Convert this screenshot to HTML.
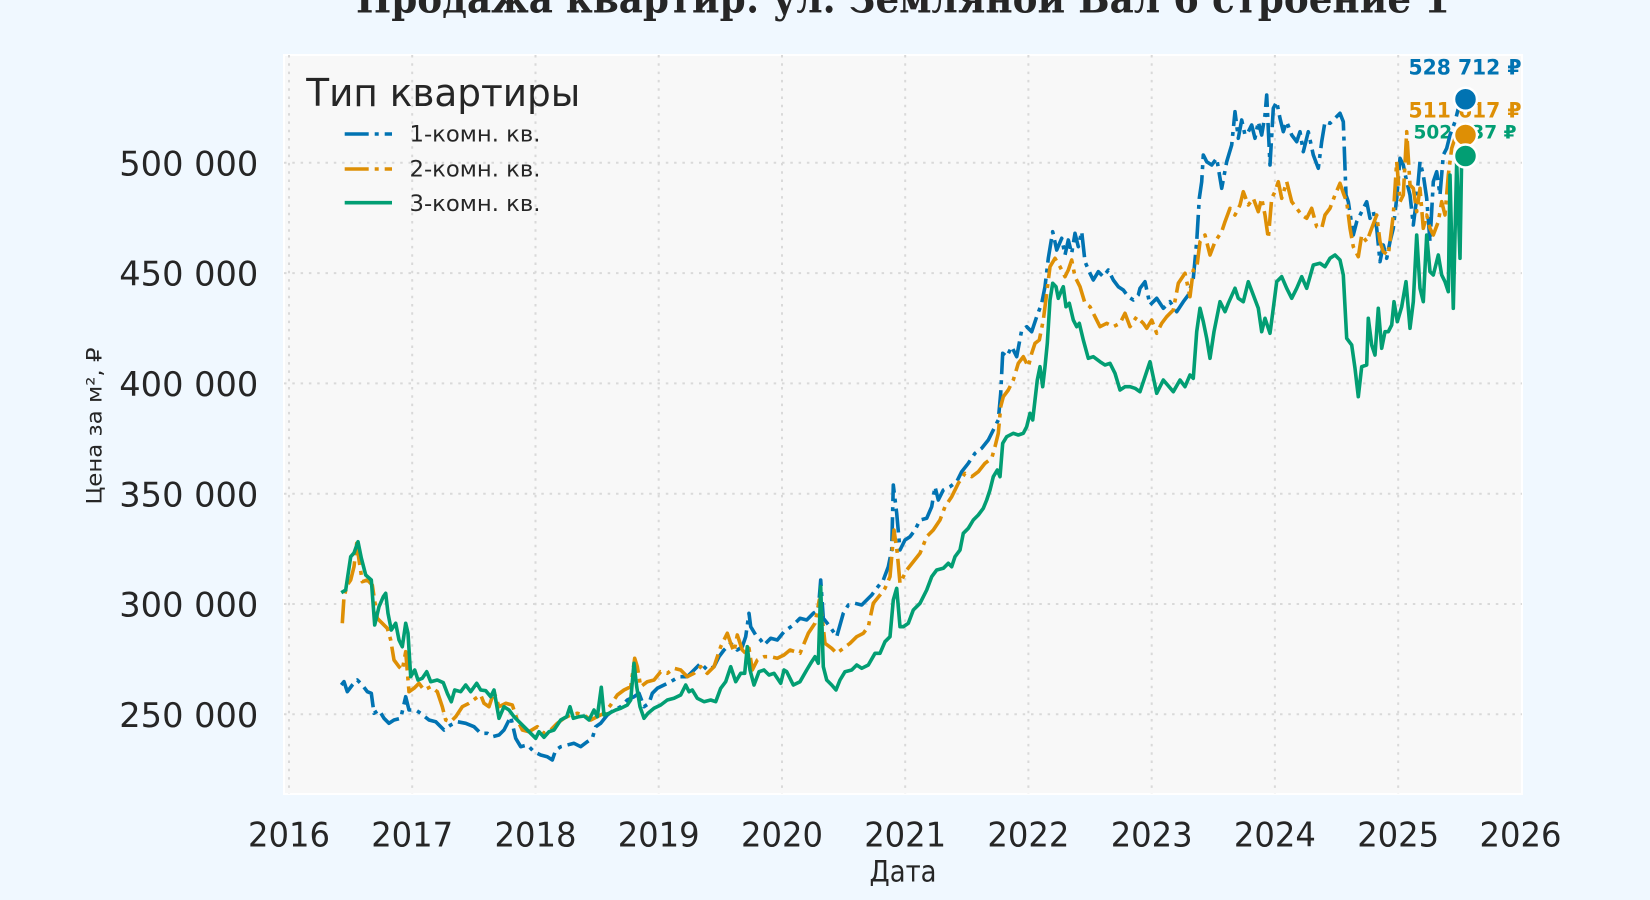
<!DOCTYPE html>
<html><head><meta charset="utf-8"><style>
html,body{margin:0;padding:0;background:#f0f8ff;}
svg{display:block;}
text{font-family:"DejaVu Sans","Liberation Sans","Noto Sans CJK SC",sans-serif;fill:#262626;}
</style></head><body>
<svg width="1650" height="900" viewBox="0 0 1650 900" xmlns="http://www.w3.org/2000/svg">
<rect x="0" y="0" width="1650" height="900" fill="#f0f8ff"/>
<text x="903" y="12.7" text-anchor="middle" font-size="40" font-weight="bold" textLength="1094" lengthAdjust="spacingAndGlyphs" style="font-family:'DejaVu Serif','Liberation Serif',serif;fill:#262626">Продажа квартир: ул. Земляной Вал 6 строение 1</text>
<rect x="284" y="55" width="1238" height="739" fill="#f8f8f8" stroke="#ffffff" stroke-width="2"/>
<g stroke="#d9d9d9" stroke-width="2" stroke-dasharray="2.5 5.8" fill="none">
<line x1="284" x2="1522" y1="714.3" y2="714.3"/>
<line x1="284" x2="1522" y1="604.0" y2="604.0"/>
<line x1="284" x2="1522" y1="493.7" y2="493.7"/>
<line x1="284" x2="1522" y1="383.4" y2="383.4"/>
<line x1="284" x2="1522" y1="273.1" y2="273.1"/>
<line x1="284" x2="1522" y1="162.8" y2="162.8"/>
<line y1="55" y2="794" x1="289" x2="289"/>
<line y1="55" y2="794" x1="412.2" x2="412.2"/>
<line y1="55" y2="794" x1="535.5" x2="535.5"/>
<line y1="55" y2="794" x1="658.7" x2="658.7"/>
<line y1="55" y2="794" x1="782" x2="782"/>
<line y1="55" y2="794" x1="905.2" x2="905.2"/>
<line y1="55" y2="794" x1="1028.4" x2="1028.4"/>
<line y1="55" y2="794" x1="1151.7" x2="1151.7"/>
<line y1="55" y2="794" x1="1274.9" x2="1274.9"/>
<line y1="55" y2="794" x1="1398.2" x2="1398.2"/>
</g>
<g font-size="34" text-anchor="end">
<text x="258.3" y="726.9" textLength="139" lengthAdjust="spacingAndGlyphs">250 000</text>
<text x="258.3" y="616.6" textLength="139" lengthAdjust="spacingAndGlyphs">300 000</text>
<text x="258.3" y="506.3" textLength="139" lengthAdjust="spacingAndGlyphs">350 000</text>
<text x="258.3" y="396.0" textLength="139" lengthAdjust="spacingAndGlyphs">400 000</text>
<text x="258.3" y="285.7" textLength="139" lengthAdjust="spacingAndGlyphs">450 000</text>
<text x="258.3" y="175.4" textLength="139" lengthAdjust="spacingAndGlyphs">500 000</text>
</g>
<g font-size="34" text-anchor="middle">
<text x="289" y="846.7" textLength="82" lengthAdjust="spacingAndGlyphs">2016</text>
<text x="412.2" y="846.7" textLength="82" lengthAdjust="spacingAndGlyphs">2017</text>
<text x="535.5" y="846.7" textLength="82" lengthAdjust="spacingAndGlyphs">2018</text>
<text x="658.7" y="846.7" textLength="82" lengthAdjust="spacingAndGlyphs">2019</text>
<text x="782" y="846.7" textLength="82" lengthAdjust="spacingAndGlyphs">2020</text>
<text x="905.2" y="846.7" textLength="82" lengthAdjust="spacingAndGlyphs">2021</text>
<text x="1028.4" y="846.7" textLength="82" lengthAdjust="spacingAndGlyphs">2022</text>
<text x="1151.7" y="846.7" textLength="82" lengthAdjust="spacingAndGlyphs">2023</text>
<text x="1274.9" y="846.7" textLength="82" lengthAdjust="spacingAndGlyphs">2024</text>
<text x="1398.2" y="846.7" textLength="82" lengthAdjust="spacingAndGlyphs">2025</text>
<text x="1520.5" y="846.7" textLength="82" lengthAdjust="spacingAndGlyphs">2026</text>
</g>
<text x="903" y="881.7" text-anchor="middle" font-size="29" textLength="67" lengthAdjust="spacingAndGlyphs">Дата</text>
<text transform="translate(101.7,426) rotate(-90)" text-anchor="middle" font-size="21" textLength="157" lengthAdjust="spacingAndGlyphs">Цена за м², ₽</text>

<text x="306.3" y="106" font-size="38" textLength="274" lengthAdjust="spacingAndGlyphs">Тип квартиры</text>
<line x1="344.7" x2="392" y1="134" y2="134" stroke="#0173b2" stroke-width="3.6" stroke-dasharray="24 6 4 6"/>
<line x1="344.7" x2="392" y1="169" y2="169" stroke="#de8f05" stroke-width="3.6" stroke-dasharray="24 6 4 6"/>
<line x1="344.7" x2="392" y1="202.7" y2="202.7" stroke="#029e73" stroke-width="3.6"/>
<g font-size="22">
<text x="409.5" y="141.7" textLength="131" lengthAdjust="spacingAndGlyphs">1-комн. кв.</text>
<text x="409.5" y="176.7" textLength="131" lengthAdjust="spacingAndGlyphs">2-комн. кв.</text>
<text x="409.5" y="211" textLength="131" lengthAdjust="spacingAndGlyphs">3-комн. кв.</text>
</g>

<g font-weight="bold" text-anchor="middle">
<text x="1465" y="74.3" font-size="21" textLength="113" lengthAdjust="spacingAndGlyphs" style="fill:#0173b2">528 712 ₽</text>
<text x="1465" y="117.7" font-size="21" textLength="113" lengthAdjust="spacingAndGlyphs" style="fill:#de8f05">511 617 ₽</text>
<text x="1465" y="138.3" font-size="18.5" textLength="103" lengthAdjust="spacingAndGlyphs" style="fill:#029e73">502 837 ₽</text>
</g>

<g fill="none" stroke-width="3.6" stroke-linejoin="round">
<polyline stroke="#0173b2" stroke-dasharray="24 6 4 6" points="341.3,685 344,681.7 347.3,691.7 352.3,685 357.3,680 362.3,685 367.3,691.7 371.3,693.3 374,713.3 379,710 384,718.3 389,723.3 394,720 400.7,718.3 405.7,696.7 409,710 415.7,710 420.7,713.3 429,720 435.7,721.7 444,730 450.7,725 457.3,721.7 465.7,723.3 474,726.7 480.7,733.3 487.3,733.3 492.3,736.7 499,735 504,730 510.7,716.7 515.7,738.3 520.7,746.7 527.3,745 534,751.7 540.7,755 547.3,756.7 552.3,760 555.7,750 560.7,746.7 567.3,745 574,743.3 580.7,746.7 587.3,741.7 592.3,738.3 595.7,726.7 600.7,723.3 607.3,715 614,710 620.7,706.7 627.3,700 634,696.7 639,693.3 644,706.7 649,703.3 652.3,693.3 657.3,688.3 664,685 670.7,681.7 679,676.7 687.3,676.7 694,670 700.7,663.3 707.3,670 714,666.7 719,656.7 724,650 730.7,643.3 737.3,650 742.3,646.7 745.7,636.7 749,613.3 750.7,626.7 755.7,635 760.7,640 764,645 770.7,638.3 777.3,640 784,631.7 793.3,625 800,618.3 806.7,620 813.3,613.3 818.3,610 820.7,580 823.3,618.3 830,626.7 836.7,636.7 843.3,613.3 848.3,605 855,603.3 861.7,605 866.7,600 871.7,595 876.7,588.3 883.3,580 888.3,566.7 891.7,550 893.3,485 896.7,513.3 900,550 905,540 910,536.7 915,530 920,520 926.7,518.3 931.7,506.7 935,486.7 938.3,500 943.3,490 950,486.7 956.7,481.7 961.7,471.7 968.3,463.3 975,453.3 981.7,448.3 988.3,440 993.3,430 998.3,420 1000.7,393.3 1002.7,353.3 1006.7,356.7 1011.7,346.7 1016.7,356.7 1021.7,330 1026.7,326.7 1031.7,331.7 1036.7,316.7 1041.7,303.3 1045,286.7 1048.3,258.3 1052.7,231.7 1056.7,250 1061.7,238.3 1065,255 1068.3,240 1071.7,253.3 1075,233.3 1078.3,246.7 1081.7,231.7 1085,261.7 1090,273.3 1093.3,280 1098.3,271.7 1103.3,276.7 1108.3,270 1113.3,280 1118.3,286.7 1123.3,290 1128.3,296.7 1133.3,300 1138.3,295 1140,288.3 1145,281.7 1150,305 1156.7,298.3 1163.3,308.3 1170,301.7 1176.7,311.7 1183.3,301.7 1188.3,295 1193.3,278.3 1196.7,241.7 1199.3,198.3 1201.7,181.7 1203.3,155 1206.7,161.7 1211.7,165 1216.7,158.3 1221.7,188.3 1226.7,161.7 1231.7,145 1235,111.7 1238.3,138.3 1241.7,120 1245,135 1248.3,131.7 1251.7,125 1255,138.3 1258.3,121.7 1261.7,135 1265,115 1266.7,95 1270,165 1273.3,108.3 1276.7,101.7 1280,118.3 1283.3,131.7 1286.7,121.7 1291.7,135 1296.7,141.7 1300,131.7 1303.3,151.7 1308.3,131.7 1313.3,155 1318.3,168.3 1321.7,141.7 1325,121.7 1330,123.3 1335,118.3 1340,113.3 1343.3,121.7 1346,195 1348.3,201.7 1353.3,235 1356.7,221.7 1361.7,211.7 1366.7,201.7 1370,218.3 1373.3,211.7 1376.7,228.3 1380,261.7 1383.3,245 1386.7,258.3 1390,241.7 1393.3,228.3 1396.7,198.3 1400,158.3 1403.3,165 1406.7,181.7 1410,195 1413.3,225 1416.7,198.3 1420,161.7 1423.3,175 1426.7,198.3 1430,241.7 1433.3,181.7 1436.7,171.7 1440,195 1443.3,155 1446.7,148.3 1450,135 1455,121.7 1460,101.7 1465,99.3"/>
<polyline stroke="#de8f05" stroke-dasharray="24 6 4 6" points="342.3,623.3 344,596.7 347.3,585 350.7,580 354,566.7 356.7,543.3 359,560 362.3,581.7 367.3,580 372.3,585 377.3,618.3 382.3,623.3 387.3,628.3 390.7,640 394,660 399,666.7 402.3,670 405.7,651.7 409,691.7 414,688.3 419,683.3 424,690 430.7,686.7 437.3,691.7 442.3,706.7 445.7,720 450.7,721.7 455.7,716.7 462.3,706.7 469,703.3 475.7,698.3 480.7,695 484,703.3 489,706.7 494,691.7 499,706.7 505.7,703.3 512.3,705 517.3,720 522.3,730 529,731.7 537.3,726.7 544,733.3 550.7,730 557.3,723.3 564,718.3 570.7,715 577.3,713.3 584,715 590.7,720 597.3,716.7 604,713.3 610.7,705 617.3,695 624,690 630.7,686.7 634.7,658.3 637.3,666.7 640.7,686.7 647.3,681.7 654,680 660.7,671.7 667.3,673.3 674,668.3 680.7,670 687.3,676.7 694,673.3 700.7,666.7 707.3,673.3 714,666.7 720.7,646.7 727.3,633.3 730.7,643.3 734,651.7 737.3,635 742.3,650 745.7,653.3 749,648.3 752.3,670 757.3,660 764,656.7 770.7,656.7 777.3,658.3 784,655 790,650 800,653.3 808.3,633.3 815,623.3 819.3,600 821.7,613.3 825,643.3 831.7,648.3 836.7,653.3 843.3,648.3 850,643.3 856.7,636.7 863.3,633.3 868.3,626.7 873.3,603.3 880,595 885,588.3 890,576.7 894,530 897.3,553.3 900,583.3 906.7,570 913.3,561.7 920,553.3 926.7,536.7 933.3,530 940,520 945,506.7 951.7,496.7 958.3,483.3 965,473.3 971.7,476.7 978.3,471.7 985,463.3 991.7,458.3 995,446.7 998.3,433.3 1000.7,406.7 1003.3,396.7 1008.3,390 1013.3,380 1018.3,363.3 1023.3,356.7 1028.3,366.7 1031.7,353.3 1035,343.3 1039.3,340 1043.3,320 1046.7,293.3 1050,266.7 1055,258.3 1060,266.7 1065,276.7 1068.3,270 1071.7,260 1075,276.7 1080,286.7 1085,303.3 1090,306.7 1095,316.7 1100,326.7 1106.7,323.3 1113.3,326.7 1120,323.3 1125,313.3 1130,326.7 1136.7,316.7 1143.3,323.3 1146.7,328.3 1151.7,320 1156.7,333.3 1161.7,323.3 1166.7,316.7 1173.3,310 1178.3,283.3 1185,273.3 1190,296.7 1193.3,270 1196.7,268.3 1200,241.7 1205,235 1210,255 1215,241.7 1221.7,231.7 1225,221.7 1230,208.3 1235,215 1240,205 1243.3,191.7 1248.3,205 1253.3,198.3 1258.3,211.7 1261.7,198.3 1265,215 1268.3,238.3 1271.7,198.3 1275,191.7 1278.3,181.7 1281.7,198.3 1286.7,181.7 1291.7,201.7 1296.7,208.3 1301.7,215 1306.7,218.3 1311.7,208.3 1316.7,226.7 1321.7,228.3 1325,215 1330,208.3 1335,195 1340,183.3 1344,195 1346.7,201.7 1350,228.3 1353.3,246.7 1358.3,256.7 1361.7,235 1366.7,241.7 1371.7,228.3 1376.7,215 1380,241.7 1383.3,251.7 1388.3,255 1393.3,215 1396.7,161.7 1400,201.7 1403.3,195 1406.7,131.7 1410,185 1413.3,188.3 1416.7,211.7 1420,188.3 1423.3,228.3 1426.7,215 1430,228.3 1433.3,235 1438.3,221.7 1441.7,201.7 1445,215 1448.3,175 1451.7,148.3 1455,138.3 1458.3,135 1465,135"/>
<polyline stroke="#029e73" points="341.3,592.7 345.7,590 350.7,556.7 354,553 358,541.7 361.3,558 365.7,575 371.3,580 374.7,625 379,606.7 383.3,596.7 385.7,593.3 388,613.3 391.3,630 395.7,623.3 399,640 402.3,646.7 405.7,623.3 408,633.3 410.7,676.7 414.7,670 418,680 422.3,678.3 426.7,671.7 430.7,681.7 437.3,680 443.3,682.7 447.3,693.3 451.3,701.7 454.7,690 460.7,691.7 465.7,685 470.7,691.7 476.7,683.3 480.7,690 485.7,690.7 490.7,696.7 494,690 499,718.3 504,706.7 509,710 514,716.7 517.3,720 524,726.7 530.7,733.3 535.7,738.3 539,731.7 544,737.3 549,731.7 554,730 560.7,720 566.7,716.7 570,706.7 573.3,718.3 579,716.7 584,716 589,720 594,710 597.3,716.7 601.3,687.3 604,715 609,713.3 615.7,710 620.7,708.3 627.3,705 630.7,700 634,663.3 636.7,686.7 640,706.7 644,718.3 648,713.3 654,708.3 660.7,705 667.3,700 674,698.3 680.7,695 685.7,685 689,691.7 692.3,690 697.3,698.3 704,701.7 710.7,700 715.7,701.7 720.7,688.3 725.7,681.7 730.7,666.7 735.7,681.7 740.7,673.3 744.7,673.3 747.3,646.7 750,670 754,685 759,671.7 764,670 769,675 774,673.3 780.7,683.3 784,670 786.7,671.7 793.3,685 800,681.7 806.7,670 811.7,661.7 815,656.7 818.3,663.3 820.7,586.7 823.3,666.7 826.7,680 831.7,685 836,690 840,680 845,671.7 851.7,670 856.7,665 861.7,668.3 868.3,665 875,653.3 880,653.3 885,641.7 890,636.7 893.3,600 896.7,588.3 900,626.7 903.3,626.7 908.3,623.3 913.3,610 920,603.3 926.7,590 931.7,576.7 936.7,570 943.3,568.3 948.3,563.3 951.7,566.7 955,556.7 960,550 963.3,533.3 968.3,528.3 973.3,520 978.3,515 983.3,508.3 986.7,500 990,490 993.3,476.7 997.3,470 1000,476.7 1002.7,443.3 1006.7,436.7 1013.3,433.3 1018.3,435 1023.3,433.3 1026.7,426.7 1030,413.3 1032.7,420 1035,400 1037.3,380 1040,366.7 1042.7,386.7 1045,366.7 1047.3,343.3 1050,300 1052.7,283.3 1056,286.7 1058.3,298.3 1061.7,290 1063.3,286.7 1066,306.7 1069.3,303.3 1073.3,320 1076.7,326.7 1079.3,323.3 1083.3,340 1088.3,358.3 1093.3,356.7 1100,361.7 1105,365 1110,363.3 1115,373.3 1120,390 1125,386.7 1130,386.7 1135,388.3 1140,391.7 1150,361.7 1156.7,393.3 1163.3,380 1173.3,391.7 1180,380 1185,386.7 1190,375 1193.3,378.3 1196.7,331.7 1200,308.3 1203.3,321.7 1206.7,338.3 1210,358.3 1214,331.7 1220,301.7 1225,311.7 1228.3,303.3 1235,288.3 1238.3,298.3 1243.3,301.7 1248.3,281.7 1253.3,295 1258.3,308.3 1261.7,331.7 1265,318.3 1270,333.3 1273.3,308.3 1276.7,281.7 1281.7,276.7 1286.7,288.3 1291.7,298.3 1296.7,288.3 1301.7,276.7 1306.7,288.3 1313.3,265 1320,263.3 1325,266.7 1330,258.3 1335,255 1340,260 1343.3,275 1346.7,338.3 1351.7,345 1355,368.3 1358.3,396.7 1361.7,366.7 1366.7,365 1368.3,318.3 1371.7,345 1375,355 1378.3,308.3 1381.7,348.3 1385,331.7 1388.3,331.7 1391.7,325 1394,301.7 1397.3,321.7 1401.7,306.7 1406,281.7 1410,328.3 1413.3,301.7 1416.7,235 1420,288.3 1423.3,301.7 1426.7,235 1430,271.7 1433.3,275 1438.3,255 1441.7,275 1445,281.7 1448.3,291.7 1450,175 1453.3,308.3 1456.7,161.7 1460,258.3 1461.7,155 1465,156"/>
</g>
<g stroke="#ffffff" stroke-width="2.5">
<circle cx="1465.5" cy="99.3" r="11.5" fill="#0173b2"/>
<circle cx="1465.5" cy="135" r="11.5" fill="#de8f05"/>
<circle cx="1465.5" cy="156" r="11.5" fill="#029e73"/>
</g>
</svg>
</body></html>
